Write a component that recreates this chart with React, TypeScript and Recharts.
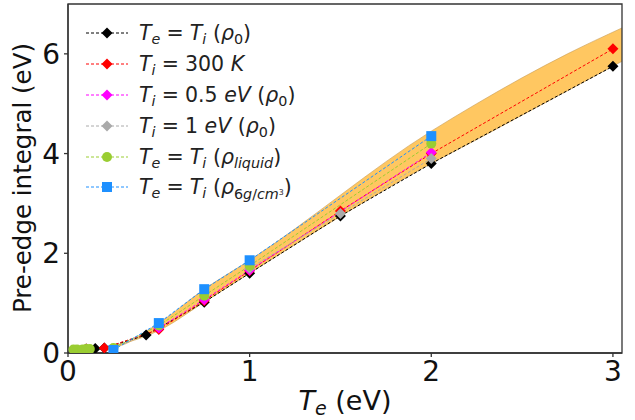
import React from 'react';
import { ComposedChart, Line, Area, XAxis, YAxis, ReferenceArea, Label } from 'recharts';

// Te = Ti, solid density
const rho0X = [0.1, 0.15, 0.2, 0.43, 0.75, 1.0, 1.5, 2.0, 3.0];
const rho0Y = [0.08, 0.09, 0.1, 0.36, 1.02, 1.6, 2.75, 3.8, 5.75];
// Ti fixed at 300 K
const ti300X = [0.1, 0.2, 0.5, 0.75, 1.0, 1.5, 2.0, 3.0];
const ti300Y = [0.08, 0.1, 0.47, 1.05, 1.65, 2.85, 4.0, 6.1];
// Ti = 0.5 eV
const ti05X = [0.5, 0.75, 1.0, 2.0];
const ti05Y = [0.5, 1.07, 1.66, 4.02];
// Ti = 1 eV
const ti1X = [1.0, 1.5, 2.0];
const ti1Y = [1.7, 2.8, 3.9];
// liquid density
const liqX = [0.03, 0.05, 0.08, 0.1, 0.12, 0.25, 0.5, 0.75, 1.0, 2.0];
const liqY = [0.07, 0.07, 0.07, 0.08, 0.08, 0.1, 0.55, 1.15, 1.75, 4.2];
// 6 g/cm3
const rho6X = [0.25, 0.5, 0.75, 1.0, 2.0];
const rho6Y = [0.06, 0.6, 1.28, 1.86, 4.35];
// uncertainty band
const bandX = [0.03, 0.1, 0.25, 0.5, 0.75, 1.0, 2.0, 2.25, 2.5, 2.75, 3.05];
const bandLow = [0.05, 0.08, 0.15, 0.45, 1.02, 1.6, 3.8, 4.28, 4.77, 5.26, 5.85];
const bandHigh = [0.08, 0.1, 0.12, 0.6, 1.28, 1.86, 4.45, 5.0, 5.52, 6.0, 6.52];

const xTicks = [0, 1, 2, 3];
const yTicks = [0, 2, 4, 6];

const zip = (xs: number[], ys: number[]) => xs.map((x, i) => ({ x, y: ys[i] }));
const band = bandX.map((x, i) => ({ x, range: [bandLow[i], bandHigh[i]] }));

const FONT = '"DejaVu Sans", sans-serif';

type MarkerKind = 'diamond' | 'square' | 'circle';

function Marker({ kind, cx, cy, color }: { kind: MarkerKind; cx: number; cy: number; color: string }) {
  if (kind === 'diamond') {
    const r = 5.5;
    return <polygon points={`${cx},${cy - r} ${cx + r},${cy} ${cx},${cy + r} ${cx - r},${cy}`} fill={color} />;
  }
  if (kind === 'square') {
    return <rect x={cx - 5} y={cy - 5} width={10} height={10} fill={color} />;
  }
  return <circle cx={cx} cy={cy} r={5} fill={color} />;
}

const sub: React.CSSProperties = { fontSize: '70%', verticalAlign: '-0.3em', lineHeight: 0 };
const sup: React.CSSProperties = { fontSize: '55%', verticalAlign: '0.5em', lineHeight: 0 };
const Eq = () => <span style={{ margin: '0 0.3em' }}>=</span>;

const series = [
  {
    name: 'rho0', data: zip(rho0X, rho0Y), color: '#000000', kind: 'diamond' as MarkerKind,
    label: <><i>T</i><sub style={sub}><i>e</i></sub><Eq /><i>T</i><sub style={sub}><i>i</i></sub> (<i>ρ</i><sub style={sub}>0</sub>)</>,
  },
  {
    name: 'ti300', data: zip(ti300X, ti300Y), color: '#ff0000', kind: 'diamond' as MarkerKind,
    label: <><i>T</i><sub style={sub}><i>i</i></sub><Eq />300 <i>K</i></>,
  },
  {
    name: 'ti05', data: zip(ti05X, ti05Y), color: '#ff00ff', kind: 'diamond' as MarkerKind,
    label: <><i>T</i><sub style={sub}><i>i</i></sub><Eq />0.5 <i>eV</i> (<i>ρ</i><sub style={sub}>0</sub>)</>,
  },
  {
    name: 'ti1', data: zip(ti1X, ti1Y), color: '#aaaaaa', kind: 'diamond' as MarkerKind,
    label: <><i>T</i><sub style={sub}><i>i</i></sub><Eq />1 <i>eV</i> (<i>ρ</i><sub style={sub}>0</sub>)</>,
  },
  {
    name: 'liq', data: zip(liqX, liqY), color: '#9acd32', kind: 'circle' as MarkerKind,
    label: <><i>T</i><sub style={sub}><i>e</i></sub><Eq /><i>T</i><sub style={sub}><i>i</i></sub> (<i>ρ</i><sub style={sub}><i>liquid</i></sub>)</>,
  },
  {
    name: 'rho6', data: zip(rho6X, rho6Y), color: '#1e90ff', kind: 'square' as MarkerKind,
    label: <><i>T</i><sub style={sub}><i>e</i></sub><Eq /><i>T</i><sub style={sub}><i>i</i></sub> (<i>ρ</i><sub style={sub}>6<i>g</i>/<i>cm</i><sup style={sup}>3</sup></sub>)</>,
  },
];

function LegendBox() {
  return (
    <div style={{ position: 'absolute', left: 84, top: 18, fontFamily: FONT, fontSize: 20.5, color: '#222' }}>
      {series.map(s => (
        <div key={s.name} style={{ display: 'flex', alignItems: 'center', height: 30.8 }}>
          <svg width={46} height={16} style={{ marginRight: 9 }}>
            <line x1={2} y1={8} x2={44} y2={8} stroke={s.color} strokeWidth={1} strokeDasharray="3 2" />
            <Marker kind={s.kind} cx={23} cy={8} color={s.color} />
          </svg>
          <span style={{ whiteSpace: 'nowrap' }}>{s.label}</span>
        </div>
      ))}
    </div>
  );
}

export default function App() {
  return (
    <div style={{ position: 'absolute', left: 0, top: 0, width: 635, height: 420, background: '#fff' }}>
      <ComposedChart width={635} height={420} margin={{ top: 4, right: 13, left: 0, bottom: 0 }}>
        <XAxis
          type="number" dataKey="x" domain={[0, 3.05]} ticks={xTicks} height={67}
          allowDataOverflow tickSize={4} tickMargin={4}
          stroke="#333" strokeWidth={1.3}
          tick={{ fill: '#111', fontSize: 28, fontFamily: FONT }}
        >
          <Label
            content={() => (
              <text x={345} y={410} textAnchor="middle" fontFamily={FONT} fontSize={27} fill="#111">
                <tspan fontStyle="italic">T</tspan>
                <tspan fontStyle="italic" fontSize={19} dy={5}>e</tspan>
                <tspan dy={-5}> (eV)</tspan>
              </text>
            )}
          />
        </XAxis>
        <YAxis
          type="number" domain={[0, 7]} ticks={yTicks} width={68}
          allowDataOverflow tickSize={4} tickMargin={4}
          stroke="#333" strokeWidth={1.3}
          tick={{ fill: '#111', fontSize: 28, fontFamily: FONT }}
        >
          <Label
            content={() => (
              <text x={31} y={178} textAnchor="middle" transform="rotate(-90 31 178)" fontFamily={FONT} fontSize={24.5} fill="#111">
                Pre-edge integral (eV)
              </text>
            )}
          />
        </YAxis>
        <Area
          data={band} dataKey="range" type="monotone"
          fill="#ffa500" fillOpacity={0.62} stroke="#c89a50" strokeWidth={0.6}
          isAnimationActive={false} activeDot={false}
        />
        {series.map(s => (
          <Line
            key={s.name} data={s.data} dataKey="y" type="linear"
            stroke={s.color} strokeWidth={1} strokeDasharray="3 2"
            dot={(p: any) => <Marker key={`${s.name}-${p.index}`} kind={s.kind} cx={p.cx} cy={p.cy} color={s.color} />}
            activeDot={false} isAnimationActive={false}
          />
        ))}
        <ReferenceArea x1={0} x2={3.05} y1={0} y2={7} fill="none" stroke="#333" strokeWidth={1.3} ifOverflow="visible" />
      </ComposedChart>
      <LegendBox />
    </div>
  );
}
